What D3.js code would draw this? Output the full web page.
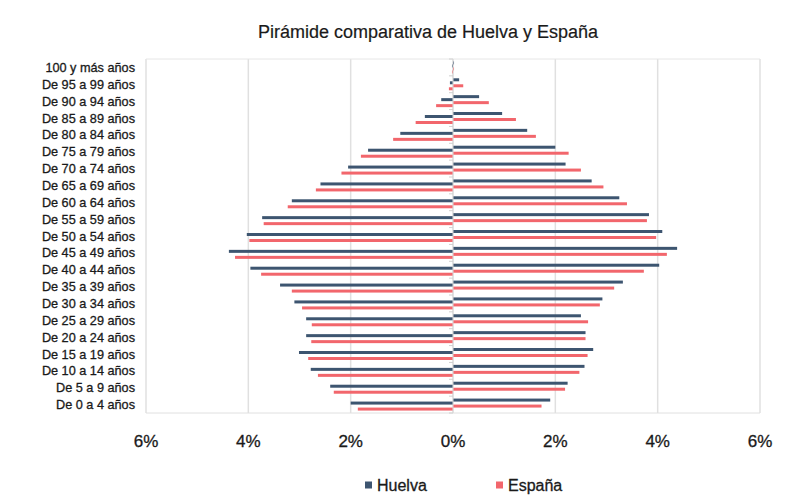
<!DOCTYPE html>
<html>
<head>
<meta charset="utf-8">
<script src="https://cdn.jsdelivr.net/npm/d3@7"></script>
<style>
  body { margin: 0; background: #fff; }
  svg { display: block; font-family: "Liberation Sans", Arial, sans-serif; }
</style>
</head>
<body>
<svg id="chart" width="805" height="496"></svg>
<script>
// Age groups, top to bottom
const categories = [
  "100 y más años", "De 95 a 99 años", "De 90 a 94 años", "De 85 a 89 años",
  "De 80 a 84 años", "De 75 a 79 años", "De 70 a 74 años", "De 65 a 69 años",
  "De 60 a 64 años", "De 55 a 59 años", "De 50 a 54 años", "De 45 a 49 años",
  "De 40 a 44 años", "De 35 a 39 años", "De 30 a 34 años", "De 25 a 29 años",
  "De 20 a 24 años", "De 15 a 19 años", "De 10 a 14 años", "De 5 a 9 años",
  "De 0 a 4 años"
];
// Percent of population, left side (drawn to the left of 0)
const huelvaLeft = [0.02, 0.06, 0.23, 0.55, 1.03, 1.66, 2.05, 2.59, 3.15, 3.73, 4.03, 4.38, 3.96, 3.38, 3.10, 2.87, 2.87, 3.01, 2.78, 2.40, 2.00];
const espanaLeft = [0.02, 0.08, 0.33, 0.73, 1.17, 1.80, 2.18, 2.68, 3.23, 3.70, 3.98, 4.26, 3.75, 3.15, 2.95, 2.76, 2.77, 2.83, 2.64, 2.33, 1.86];
// Percent of population, right side
const huelvaRight = [0.02, 0.12, 0.51, 0.96, 1.45, 2.00, 2.20, 2.71, 3.25, 3.83, 4.09, 4.38, 4.03, 3.32, 2.92, 2.50, 2.59, 2.74, 2.57, 2.24, 1.90];
const espanaRight = [0.02, 0.20, 0.70, 1.23, 1.62, 2.26, 2.50, 2.94, 3.40, 3.79, 3.97, 4.18, 3.73, 3.15, 2.87, 2.64, 2.59, 2.63, 2.47, 2.19, 1.73];
const xTicks = [-6, -4, -2, 0, 2, 4, 6];
const seriesNames = ["Huelva", "España"];
const colors = { "Huelva": "#3d5570", "España": "#f2666c" };

const svg = d3.select("#chart");
const plot = { left: 146, right: 760, top: 59, bottom: 413 };

const x = d3.scaleLinear().domain([-6, 6]).range([plot.left, plot.right]);
const y = d3.scaleBand().domain(categories).range([plot.top, plot.bottom]).padding(0);
const sub = d3.scaleBand()
  .domain(["hr", "hl", "er", "el"])
  .range([-6, 6]).padding(0);

// Title
svg.append("text")
  .attr("x", 428).attr("y", 38)
  .attr("text-anchor", "middle")
  .attr("font-size", 18).attr("fill", "#1a1a1a")
  .attr("stroke", "#1a1a1a").attr("stroke-width", 0.2)
  .text("Pirámide comparativa de Huelva y España");

// Gridlines & frame
svg.append("g").selectAll("line").data(xTicks).join("line")
  .attr("x1", d => x(d)).attr("x2", d => x(d))
  .attr("y1", plot.top).attr("y2", plot.bottom)
  .attr("stroke", "#e0e0e0").attr("stroke-width", 1.5);
svg.append("line")
  .attr("x1", plot.left).attr("x2", plot.right)
  .attr("y1", plot.top).attr("y2", plot.top)
  .attr("stroke", "#e6e6e6").attr("stroke-width", 1);
svg.append("line")
  .attr("x1", plot.left).attr("x2", plot.right)
  .attr("y1", plot.bottom).attr("y2", plot.bottom)
  .attr("stroke", "#e0e0e0").attr("stroke-width", 1);

// Bars
const rows = categories.map((c, i) => ({
  c, hl: huelvaLeft[i], el: espanaLeft[i], hr: huelvaRight[i], er: espanaRight[i]
}));
const barDefs = [
  { key: "hr", side: 1, color: colors["Huelva"] },
  { key: "hl", side: -1, color: colors["Huelva"] },
  { key: "er", side: 1, color: colors["España"] },
  { key: "el", side: -1, color: colors["España"] }
];
const gBars = svg.append("g");
barDefs.forEach(b => {
  gBars.append("g").selectAll("rect").data(rows).join("rect")
    .attr("x", d => b.side > 0 ? x(0) : x(-d[b.key]))
    .attr("width", d => Math.abs(x(b.side * d[b.key]) - x(0)))
    .attr("y", d => y(d.c) + y.bandwidth() / 2 + sub(b.key))
    .attr("height", sub.bandwidth())
    .attr("fill", b.color);
});

// Category axis at zero
const yAxis = svg.append("g");
yAxis.append("line")
  .attr("x1", x(0)).attr("x2", x(0))
  .attr("y1", plot.top).attr("y2", plot.bottom)
  .attr("stroke", "#dcdcdc").attr("stroke-width", 1);
const boundaries = d3.range(categories.length + 1).map(i => plot.top + i * y.step());
yAxis.selectAll("line.tk").data(boundaries).join("line").attr("class", "tk")
  .attr("x1", x(0) - 4).attr("x2", x(0))
  .attr("y1", d => d).attr("y2", d => d)
  .attr("stroke", "#d0d0d0").attr("stroke-width", 1);

// Category labels
svg.append("g").selectAll("text").data(categories).join("text")
  .attr("x", 135)
  .attr("y", d => y(d) + y.bandwidth() / 2 + 4.5)
  .attr("text-anchor", "end")
  .attr("font-size", 12.7).attr("fill", "#1a1a1a")
  .attr("stroke", "#1a1a1a").attr("stroke-width", 0.3)
  .text(d => d);

// X tick labels
svg.append("g").selectAll("text").data(xTicks).join("text")
  .attr("x", d => x(d))
  .attr("y", 447)
  .attr("text-anchor", "middle")
  .attr("font-size", 17).attr("fill", "#1a1a1a")
  .attr("stroke", "#1a1a1a").attr("stroke-width", 0.3)
  .text(d => Math.abs(d) + "%");

// Legend
const legendPos = [{ name: "Huelva", x: 365 }, { name: "España", x: 496 }];
const lg = svg.append("g");
legendPos.forEach(l => {
  lg.append("rect").attr("x", l.x).attr("y", 481.5).attr("width", 7).attr("height", 7)
    .attr("fill", colors[l.name]);
  lg.append("text").attr("x", l.x + 12).attr("y", 491)
    .attr("font-size", 16).attr("fill", "#1a1a1a")
    .attr("stroke", "#1a1a1a").attr("stroke-width", 0.3)
    .text(l.name);
});
</script>
</body>
</html>
